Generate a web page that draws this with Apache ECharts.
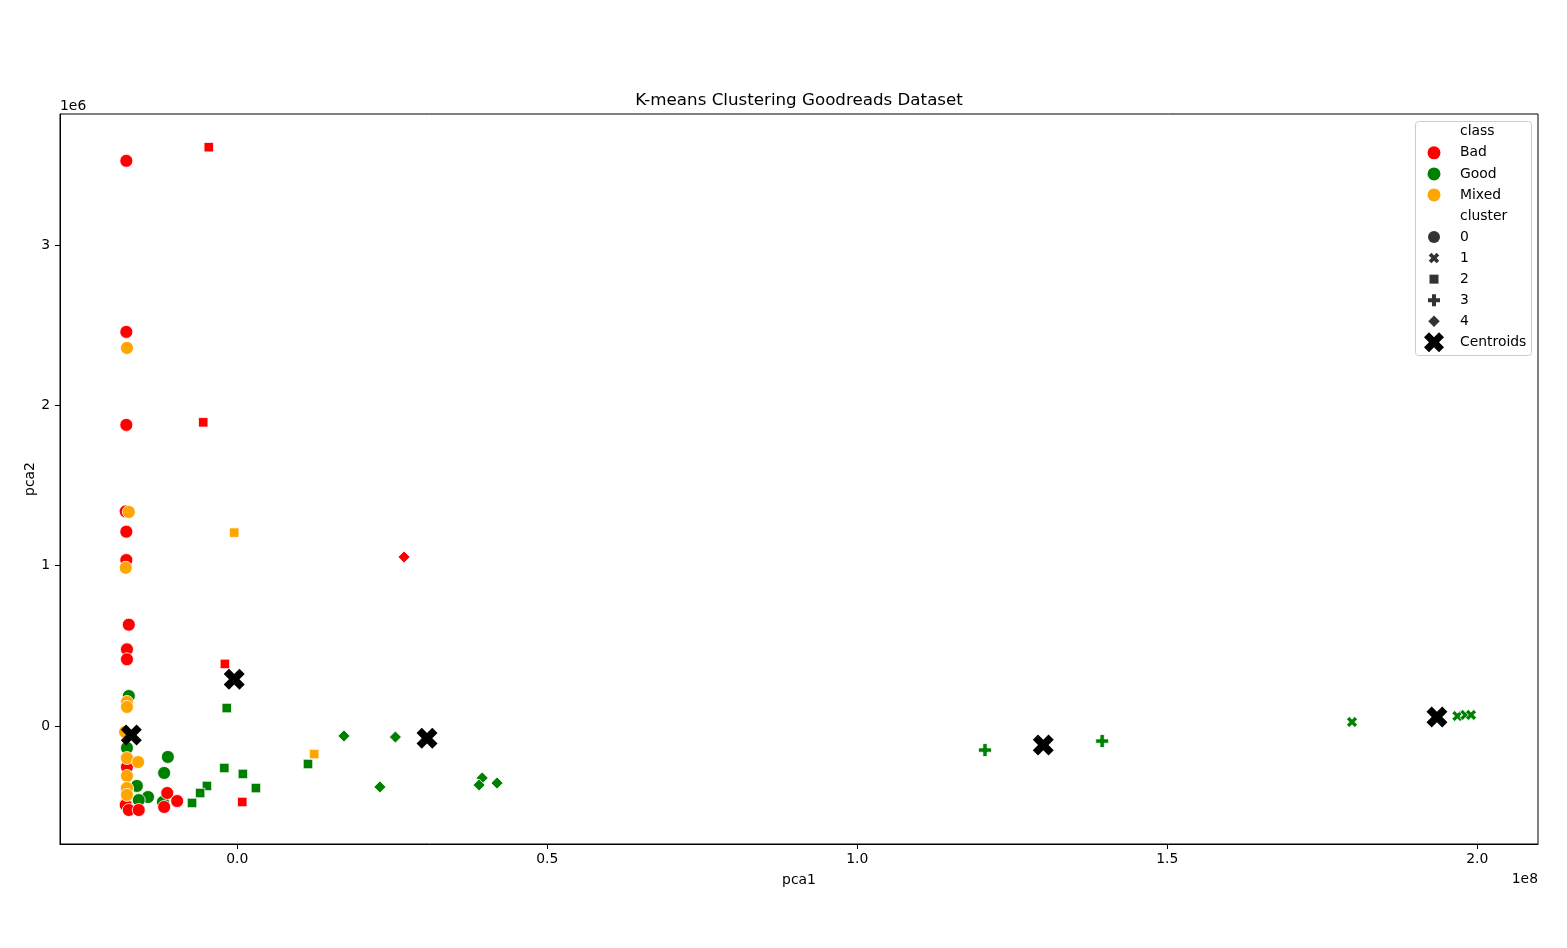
<!DOCTYPE html>
<html><head><meta charset="utf-8">
<script src="https://cdn.jsdelivr.net/npm/echarts@6/dist/echarts.min.js"></script>
<style>html,body{margin:0;padding:0;background:#fff}#c{width:1567px;height:948px}</style>
</head><body><div id="c"></div>
<script>
// pca1 in units of 1e8, pca2 in units of 1e6
const xTicks = [0, 0.5, 1.0, 1.5, 2.0];
const yTicks = [0, 1, 2, 3];
const xRange = [-0.286, 2.098];
const yRange = [-0.736, 3.817];

const good0 = [[-0.175,0.187],[-0.178,-0.137],[-0.112,-0.193],[-0.118,-0.293],[-0.162,-0.374],[-0.144,-0.443],[-0.159,-0.462],[-0.178,-0.399],[-0.180,-0.487],[-0.120,-0.474]];
const bad0 = [[-0.179,3.525],[-0.179,2.458],[-0.179,1.878],[-0.180,1.338],[-0.179,1.212],[-0.179,1.035],[-0.175,0.632],[-0.178,0.478],[-0.178,0.416],[-0.178,-0.256],[-0.180,-0.493],[-0.175,-0.524],[-0.159,-0.524],[-0.118,-0.505],[-0.113,-0.418],[-0.097,-0.468]];
const mixed0 = [[-0.178,2.358],[-0.175,1.335],[-0.180,0.987],[-0.178,0.150],[-0.178,0.119],[-0.181,-0.037],[-0.178,-0.200],[-0.160,-0.225],[-0.178,-0.312],[-0.178,-0.387],[-0.178,-0.430]];
const good1 = [[1.798,0.025],[1.968,0.062],[1.981,0.069],[1.990,0.069]];
const bad2 = [[-0.046,3.610],[-0.055,1.894],[-0.020,0.387],[0.008,-0.474]];
const mixed2 = [[-0.005,1.206],[0.124,-0.175]];
const good2 = [[-0.017,0.112],[-0.021,-0.262],[0.009,-0.299],[0.030,-0.387],[-0.049,-0.374],[-0.060,-0.418],[-0.073,-0.480],[0.114,-0.237]];
const good3 = [[1.206,-0.150],[1.395,-0.094]];
const bad4 = [[0.269,1.054]];
const good4 = [[0.172,-0.062],[0.255,-0.069],[0.230,-0.380],[0.395,-0.324],[0.390,-0.368],[0.419,-0.356]];
const centroids = [[-0.171,-0.056],[-0.005,0.291],[0.306,-0.077],[1.300,-0.119],[1.935,0.056]];

const classNames = ['Bad','Good','Mixed'];
const clusterNames = ['0','1','2','3','4'];

const colors = {Bad:'#ff0000', Good:'#008000', Mixed:'#ffa500'};
// marker outlines (normalized vertex lists)
const SHAPES = {
  '1': {n:4, pts:[[1,0],[2,1],[3,0],[4,1],[3,2],[4,3],[3,4],[2,3],[1,4],[0,3],[1,2],[0,1]]},
  '2': {n:1, pts:[[0,0],[1,0],[1,1],[0,1]]},
  '3': {n:6, pts:[[2,0],[4,0],[4,2],[6,2],[6,4],[4,4],[4,6],[2,6],[2,4],[0,4],[0,2],[2,2]]},
  '4': {n:2, pts:[[1,0],[2,1],[1,2],[0,1]]}
};
function pathOf(k){
  const p = SHAPES[k].pts;
  return 'path://' + p.map((q,i)=>(i?'L':'M')+q[0]+','+q[1]).join('') + 'Z';
}
const SYM = {'0':'circle','1':pathOf('1'),'2':pathOf('2'),'3':pathOf('3'),'4':pathOf('4')};
const SIZE = {'0':13, '1':11, '2':9.5, '3':13, '4':12};

const groups = [
  ['Good','0',good0],['Bad','0',bad0],['Mixed','0',mixed0],
  ['Good','1',good1],
  ['Good','2',good2],['Bad','2',bad2],['Mixed','2',mixed2],
  ['Good','3',good3],
  ['Good','4',good4],['Bad','4',bad4]
];

const series = groups.map(([cls, cl, data]) => ({
  type:'scatter', name: cls + ' / ' + cl, data: data,
  symbol: SYM[cl], symbolSize: SIZE[cl], symbolKeepAspect: true,
  itemStyle:{color: colors[cls], borderColor:'#ffffff', borderWidth:0.8, opacity:1},
  emphasis:{disabled:true}, silent:true, z:2
}));
series.push({
  type:'scatter', name:'Centroids', data: centroids,
  symbol: SYM['1'], symbolSize: 21, symbolKeepAspect:true,
  itemStyle:{color:'#000000', opacity:1}, emphasis:{disabled:true}, silent:true, z:3
});

// legend (class / cluster sections, as in the seaborn legend)
const font = 'DejaVu Sans';
const legendRows = [
  {name:'class'},
  {name:'Bad', key:'0', size:13, color:colors.Bad},
  {name:'Good', key:'0', size:13, color:colors.Good},
  {name:'Mixed', key:'0', size:13, color:colors.Mixed},
  {name:'cluster'},
  {name:'0', key:'0', size:12, color:'#333333'},
  {name:'1', key:'1', size:10.5, color:'#333333'},
  {name:'2', key:'2', size:9, color:'#333333'},
  {name:'3', key:'3', size:12, color:'#333333'},
  {name:'4', key:'4', size:11.5, color:'#333333'},
  {name:'Centroids', key:'1', size:20, color:'#000000'}
];
const LX = 1434, TX = 1460, LY0 = 131.8, LDY = 21.05;
const legendGraphics = [];
legendRows.forEach((r, i) => {
  const yc = LY0 + i * LDY;
  legendGraphics.push({type:'text', x:TX, y:yc, z:11, silent:true,
    style:{text:r.name, fontFamily:font, fontSize:13.9, fill:'#000', verticalAlign:'middle', align:'left'}});
  if (!r.key) return;
  if (r.key === '0') {
    legendGraphics.push({type:'circle', z:11, silent:true, shape:{cx:LX, cy:yc, r:r.size/2}, style:{fill:r.color}});
  } else {
    const s = SHAPES[r.key];
    const pts = s.pts.map(q => [LX - r.size/2 + q[0]/s.n*r.size, yc - r.size/2 + q[1]/s.n*r.size]);
    legendGraphics.push({type:'polygon', z:11, silent:true, shape:{points:pts}, style:{fill:r.color}});
  }
});

const option = {
  animation:false,
  backgroundColor:'#ffffff',
  title:{text:'K-means Clustering Goodreads Dataset', left:799, textAlign:'center', top:92, padding:0,
    textStyle:{fontFamily:font, fontSize:16.7, fontWeight:'normal', color:'#000'}},
  grid:{left:60, top:114, width:1478, height:730, show:true, borderColor:'#000', borderWidth:1, backgroundColor:'transparent'},
  xAxis:{type:'value', min:xRange[0], max:xRange[1],
    name:'pca1', nameLocation:'middle', nameGap:29, nameMoveOverlap:false,
    nameTextStyle:{fontFamily:font, fontSize:13.9, color:'#000'},
    axisLine:{show:true, onZero:false, lineStyle:{color:'#000', width:1}},
    axisTick:{show:true, length:5, lineStyle:{color:'#000'}, customValues:xTicks},
    axisLabel:{show:true, margin:8, fontFamily:font, fontSize:13.9, color:'#000', customValues:xTicks,
      formatter:v => Number(v).toFixed(1)},
    splitLine:{show:false}},
  yAxis:{type:'value', min:yRange[0], max:yRange[1],
    name:'pca2', nameLocation:'middle', nameGap:23, nameRotate:90, nameMoveOverlap:false,
    nameTextStyle:{fontFamily:font, fontSize:13.9, color:'#000'},
    axisLine:{show:true, onZero:false, lineStyle:{color:'#000', width:1}},
    axisTick:{show:true, length:5, lineStyle:{color:'#000'}, customValues:yTicks},
    axisLabel:{show:true, margin:10, fontFamily:font, fontSize:13.9, color:'#000', customValues:yTicks,
      formatter:v => String(Math.round(v))},
    splitLine:{show:false}},
  graphic:[
    {type:'rect', left:1415, top:121, z:10, silent:true,
      shape:{width:116, height:234, r:3},
      style:{fill:'rgba(255,255,255,0.8)', stroke:'#cccccc', lineWidth:1}},
    {type:'text', left:60, top:99, silent:true,
      style:{text:'1e6', fontFamily:font, fontSize:13.9, fill:'#000'}},
    {type:'text', right:29, top:872, silent:true,
      style:{text:'1e8', fontFamily:font, fontSize:13.9, fill:'#000'}}
  ].concat(legendGraphics),
  series: series
};
const chart = echarts.init(document.getElementById('c'), null, {renderer:'canvas'});
chart.setOption(option);
</script></body></html>
